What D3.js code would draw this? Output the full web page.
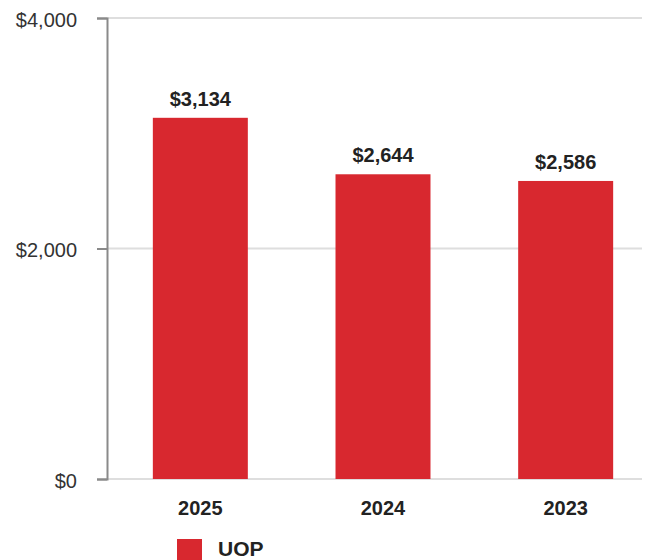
<!DOCTYPE html>
<html>
<head>
<meta charset="utf-8">
<script src="https://cdn.jsdelivr.net/npm/d3@7"></script>
<style>
  body { margin: 0; background: #fff; }
  svg { font-family: "Liberation Sans", Arial, sans-serif; }
</style>
</head>
<body>
<svg width="645" height="560"></svg>
<script>
// chart data
var years = ["2025", "2024", "2023"];
var uop = [3134, 2644, 2586];
var yTicks = [0, 2000, 4000];
var seriesName = "UOP";

var svg = d3.select("svg");

var x = d3.scaleBand()
    .domain(years)
    .range([109, 657])
    .paddingInner(0.48)
    .paddingOuter(0.24);

var y = d3.scaleLinear()
    .domain([0, 4000])
    .range([479, 18]);

// gridlines
svg.append("g")
    .selectAll("line")
    .data(yTicks)
    .enter()
    .append("line")
    .attr("x1", 107)
    .attr("x2", 642)
    .attr("y1", function(d) { return y(d); })
    .attr("y2", function(d) { return y(d); })
    .attr("stroke", "#dedede")
    .attr("stroke-width", 2);

// y axis
var yAxis = svg.append("g")
    .attr("transform", "translate(107,0)")
    .call(d3.axisLeft(y)
        .tickValues(yTicks)
        .tickSize(10)
        .tickFormat(function(d) { return "$" + d3.format(",")(d); }));

yAxis.attr("font-family", null).attr("font-size", null);
yAxis.select(".domain").attr("stroke", "#8a8a8a").attr("stroke-width", 2);
yAxis.selectAll(".tick line").attr("stroke", "#8a8a8a").attr("stroke-width", 2);
yAxis.selectAll(".tick text")
    .attr("fill", "#333")
    .style("font-size", "20px")
    .attr("x", -30)
    .attr("dy", "0.4em");

// bars
svg.selectAll("rect.bar")
    .data(uop)
    .enter()
    .append("rect")
    .attr("class", "bar")
    .attr("x", function(d, i) { return x(years[i]); })
    .attr("y", function(d) { return y(d); })
    .attr("width", x.bandwidth())
    .attr("height", function(d) { return y(0) - y(d); })
    .attr("fill", "#d8282f");

// value labels
svg.selectAll("text.val")
    .data(uop)
    .enter()
    .append("text")
    .attr("class", "val")
    .attr("x", function(d, i) { return x(years[i]) + x.bandwidth() / 2; })
    .attr("y", function(d) { return y(d) - 12; })
    .attr("text-anchor", "middle")
    .attr("fill", "#222")
    .style("font-size", "20px")
    .style("font-weight", "bold")
    .text(function(d) { return "$" + d3.format(",")(d); });

// x labels
svg.selectAll("text.xl")
    .data(years)
    .enter()
    .append("text")
    .attr("class", "xl")
    .attr("x", function(d) { return x(d) + x.bandwidth() / 2; })
    .attr("y", 515)
    .attr("text-anchor", "middle")
    .attr("fill", "#222")
    .style("font-size", "20px")
    .style("font-weight", "bold")
    .text(function(d) { return d; });

// legend
var legend = svg.append("g").attr("transform", "translate(177,539)");
legend.append("rect")
    .attr("width", 25)
    .attr("height", 21)
    .attr("fill", "#d8282f");
legend.append("text")
    .attr("x", 41)
    .attr("y", 17)
    .attr("fill", "#222")
    .style("font-size", "21px")
    .style("font-weight", "bold")
    .text(seriesName);
</script>
</body>
</html>
